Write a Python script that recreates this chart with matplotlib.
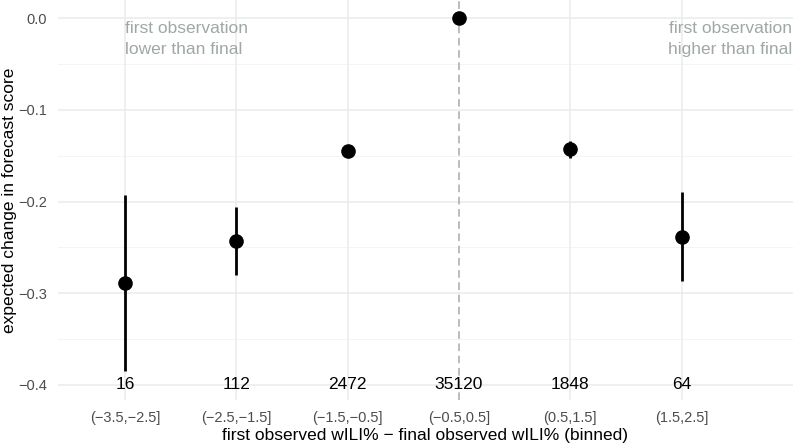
import matplotlib
matplotlib.use("Agg")
import matplotlib.pyplot as plt

plt.rcParams['font.family'] = ['Liberation Sans', 'DejaVu Sans']

### data
bins = ['(−3.5,−2.5]', '(−2.5,−1.5]', '(−1.5,−0.5]', '(−0.5,0.5]', '(0.5,1.5]', '(1.5,2.5]']
counts = [16, 112, 2472, 35120, 1848, 64]
estimate = [-0.289, -0.2435, -0.145, 0.0, -0.143, -0.2385]
lower = [-0.385, -0.280, -0.151, 0.0, -0.152, -0.287]
upper = [-0.193, -0.2065, -0.139, 0.0, -0.134, -0.190]
yticks = [0.0, -0.1, -0.2, -0.3, -0.4]
ytick_labels = ['0.0', '−0.1', '−0.2', '−0.3', '−0.4']

fig = plt.figure(figsize=(7.93, 4.45), dpi=100)
ax = fig.add_axes([58 / 793, 45 / 445, 1 - 58 / 793, 400 / 445])

pos = list(range(len(bins)))
err = [[e - l for e, l in zip(estimate, lower)], [u - e for e, u in zip(estimate, upper)]]

### grid (ggplot minimal look)
for y in yticks:
    ax.axhline(y, color='#EBEBEB', lw=1.1, zorder=0)
for y in [-0.05, -0.15, -0.25, -0.35]:
    ax.axhline(y, color='#F2F2F2', lw=0.6, zorder=0)
for i, p in enumerate(pos):
    if bins[i] == '(−0.5,0.5]':
        ax.axvline(p, color='#AAAAAA', lw=1.1, ls=(0, (5, 3)), zorder=1)
    else:
        ax.axvline(p, color='#EBEBEB', lw=1.1, zorder=0)

ax.errorbar(pos, estimate, yerr=err, fmt='o', color='black', ms=9.5,
            elinewidth=2.0, capsize=0, zorder=3)

# counts per bin
for p, n in zip(pos, counts):
    ax.text(p, -0.4, str(n), ha='center', va='center', fontsize=12.5, color='black', zorder=4)

ax.text(0, -0.0226, 'first observation\nlower than final', ha='left', va='center',
        fontsize=12.5, color='#A0A8A7', linespacing=1.5)
ax.text(5.995, -0.0226, 'first observation\nhigher than final', ha='right', va='center',
        fontsize=12.5, color='#A0A8A7', linespacing=1.5)

ax.set_xlim(-0.6, 6.0)
ax.set_ylim(-0.4167, 0.02)
ax.set_xticks(pos)
ax.set_xticklabels(bins, fontsize=10.5, color='#4D4D4D')
ax.set_yticks(yticks)
ax.set_yticklabels(ytick_labels, fontsize=10.5, color='#4D4D4D')
ax.tick_params(length=0, pad=8)
for s in ax.spines.values():
    s.set_visible(False)

ax.set_xlabel('first observed wILI% − final observed wILI% (binned)', fontsize=12.5, labelpad=2)
fig.text(10 / 793, (445 - 200) / 445, 'expected change in forecast score', rotation=90,
         ha='center', va='center', fontsize=12.5)

fig.savefig('out.png', dpi=100)
